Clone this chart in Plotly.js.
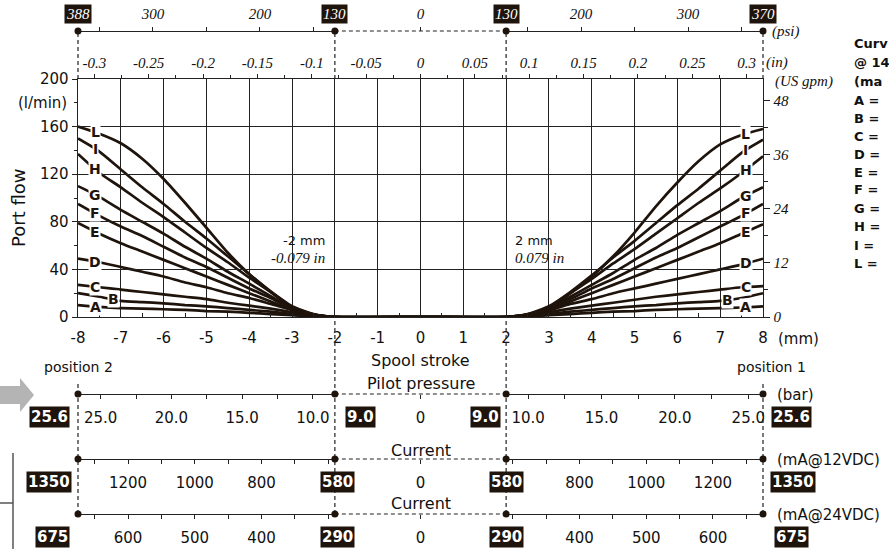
<!DOCTYPE html>
<html><head><meta charset="utf-8">
<script src="https://cdn.plot.ly/plotly-3.0.1.min.js"></script>
<style>html,body{margin:0;padding:0;background:#fff;}#chart{width:889px;height:549px;}</style>
</head><body><div id="chart"></div>
<script>
// ---------------- DATA ----------------
const strokeMm = [-8,-7.5,-7,-6.5,-6,-5.5,-5,-4.5,-4,-3.5,-3,-2.5,-2,0,2,2.5,3,3.5,4,4.5,5,5.5,6,6.5,7,7.5,8];
const curveNames = ['A','B','C','D','E','F','G','H','I','L'];
const flowA = [10,8.5,7.5,7,6.5,6,5,4.5,3.5,2.5,1.5,0.4,0, 0, 0,0.4,1.5,2.5,3.5,4.5,5,6,6.5,7,7.5,8,9];
const flowB = [20,17,13.5,12.5,11.5,10,9,7.5,6,4.5,2.5,0.7,0, 0, 0,0.7,2.5,4.5,6,7.5,9,10,11.5,12.5,13.5,16,20];
const flowC = [27,25,23,21,19,17,15,12,9.5,7,4,1,0, 0, 0,1,4,7,9.5,12,14.5,17,19,21,23,25,26];
const flowD = [49,46,42,38,34,29,25,20,16,11,6,1.5,0, 0, 0,1.5,5.5,11,15,20,24,28,32,36,40,44,49];
const flowE = [79,70,62,55,48,41,34,27,20,13,6,1.5,0, 0, 0,1.5,6,13,20,27,34,41,48,55,62,70,78];
const flowF = [95,85,76,68,59,50,42,33,24,16,7,2,0, 0, 0,2,7,15,24,32,41,50,58,67,76,85,95];
const flowG = [110,101,90,80,70,59,49,38,28,17.5,7.5,2,0, 0, 0,2,7,17,27,37,48,58,69,79,89,100,109];
const flowH = [137,121,109,96,84,71,58,46,33,21,8.5,2.3,0, 0, 0,2.3,8,20,32,45,57,70,83,96,108,121,135];
const flowI = [150,139,124,109,95,80,66,51,36,21.5,9,2.5,0, 0, 0,2.5,9,21,35,50,64,79,94,108,123,138,149];
const flowL = [160,154,146,133,116,96,75,54,36,21,8.5,2,0, 0, 0,2,8,20,34,51,71,93,113,131,145,153,158];

const mmTickVals = [-8,-7,-6,-5,-4,-3,-2,-1,0,1,2,3,4,5,6,7,8];
const mmTickText = ['-8','-7','-6','-5','-4','-3','-2','-1','0','1','2','3','4','5','6','7','8'];
const inchTickVals = [-0.3,-0.25,-0.2,-0.15,-0.1,-0.05,0,0.05,0.1,0.15,0.2,0.25,0.3];
const inchTickText = ['-0.3','-0.25','-0.2','-0.15','-0.1','-0.05','0','0.05','0.1','0.15','0.2','0.25','0.3'];
const flowTickVals = [0,40,80,120,160,200];
const gpmTickVals = [0,12,24,36,48];
const psiTickVals = [150,200,250,300,350];
const psiTickText = ['','200','','300',''];
const barTickVals = [10,12.5,15,17.5,20,22.5,25];
const barTickText = ['10.0','','15.0','','20.0','','25.0'];
const ma12TickVals = [600,700,800,900,1000,1100,1200,1300];
const ma12TickText = ['','','800','','1000','','1200',''];
const ma24TickVals = [300,350,400,450,500,550,600,650];
const ma24TickText = ['','','400','','500','','600',''];
const psiLimits = ['388','130','130','370'];
const barLimits = ['25.6','9.0','9.0','25.6'];
const ma12Limits = ['1350','580','580','1350'];
const ma24Limits = ['675','290','290','675'];
const legendLines = ['Curv','@ 14','(ma','A =','B =','C =','D =','E =','F =','G =','H =','I =','L ='];

// ---------------- GEOMETRY ----------------
const W = 889, H = 549;
const M = {l:78, r:126, t:31, b:35};
const plotW = W - M.l - M.r, plotH = H - M.t - M.b;
const xRange = [-8, 8];
const flowRange = [0, 200];
const LPM_TO_GPM = 0.264172;
const MM_PER_IN = 25.4;
function mmX(m){ return (m - xRange[0]) / (xRange[1] - xRange[0]); }
function pyFrac(ypx){ return (H - M.b - ypx) / plotH; }
function pxFrac(xpx){ return (xpx - M.l) / plotW; }
const mainDom = [pyFrac(317), pyFrac(79)];
const splitL = mmX(-2), splitR = mmX(2);
const posPsi = 1, posBar = pyFrac(394), posMa12 = pyFrac(459), posMa24 = 0;

const INK = '#1f140c';
const LINE = '#222';
const sans = 'DejaVu Sans';
const serif = 'Liberation Serif';

function interp(xs, ys, x){
  for (let i = 0; i < xs.length - 1; i++){
    if (x >= xs[i] && x <= xs[i+1]){
      const t = (x - xs[i]) / (xs[i+1] - xs[i]);
      return ys[i] + t * (ys[i+1] - ys[i]);
    }
  }
  return ys[ys.length-1];
}

// ---------------- TRACES ----------------
const flows = [flowA, flowB, flowC, flowD, flowE, flowF, flowG, flowH, flowI, flowL];
const traces = flows.map((f, i) => ({
  type: 'scatter', mode: 'lines', x: strokeMm, y: f, name: curveNames[i],
  line: {color: INK, width: 2.7, shape: 'spline', smoothing: 0.6},
  xaxis: 'x', yaxis: 'y', hoverinfo: 'skip', showlegend: false
}));
const auxAxes = [['x2','y'],['x','y2'],['x3','y'],['x4','y'],['x5','y'],['x6','y'],['x7','y'],['x8','y'],
  ['x9','y'],['x10','y'],['x11','y'],['x12','y'],['x13','y'],['x14','y']];

// ---------------- AXES ----------------
const fSerifIt = (s) => ({family: serif, size: s, style: 'italic', color: '#111'});
const fSans = (s) => ({family: sans, size: s, color: '#111'});

function scaleAxis(domain, range, pos, side, tv, tt, font, standoff, line){
  return {domain: domain, range: range, anchor: 'free', position: pos, side: side,
    tickmode: 'array', tickvals: tv, ticktext: tt, ticks: 'outside', ticklen: 4,
    tickcolor: LINE, tickwidth: 1, showline: line, linecolor: LINE, linewidth: 1.3,
    showgrid: false, zeroline: false, tickfont: font, ticklabelstandoff: standoff,
    fixedrange: true};
}

const layout = {
  width: W, height: H, margin: M, paper_bgcolor: '#fff', plot_bgcolor: 'rgba(0,0,0,0)',
  font: {family: sans, color: '#111'}, showlegend: false, hovermode: false,
  xaxis: {domain: [0,1], anchor: 'y', range: xRange, tickmode: 'array', tickvals: mmTickVals,
    ticktext: mmTickText, ticks: 'inside', ticklen: 4, tickcolor: LINE,
    minor: {dtick: 0.5, tick0: 0, ticks: 'inside', ticklen: 4, tickcolor: LINE, showgrid: false},
    showgrid: true, gridcolor: LINE, gridwidth: 1.1, showline: true, linecolor: LINE, linewidth: 1.4,
    zeroline: false, tickfont: fSans(15), ticklabelstandoff: 7, fixedrange: true},
  xaxis2: {overlaying: 'x', anchor: 'y', side: 'top', range: [xRange[0]/MM_PER_IN, xRange[1]/MM_PER_IN],
    tickmode: 'array', tickvals: inchTickVals, ticktext: inchTickText, ticks: 'outside', ticklen: 4, tickcolor: LINE,
    minor: {dtick: 0.025, tick0: 0, ticks: 'outside', ticklen: 3, tickcolor: LINE, showgrid: false},
    showgrid: false, showline: true, linecolor: LINE, linewidth: 1.4, zeroline: false,
    tickfont: fSerifIt(15), fixedrange: true},
  yaxis: {domain: mainDom, anchor: 'x', range: flowRange, tickmode: 'array', tickvals: flowTickVals,
    ticks: 'outside', ticklen: 5, tickcolor: LINE,
    minor: {dtick: 20, tick0: 0, ticks: 'outside', ticklen: 3, tickcolor: LINE, showgrid: false},
    showgrid: true, gridcolor: LINE, gridwidth: 1.1, showline: true, linecolor: LINE, linewidth: 1.4,
    zeroline: false, tickfont: fSans(15), fixedrange: true},
  yaxis2: {overlaying: 'y', anchor: 'x', side: 'right', range: [flowRange[0]*LPM_TO_GPM, flowRange[1]*LPM_TO_GPM],
    tickmode: 'array', tickvals: gpmTickVals, ticks: 'outside', ticklen: 6, tickcolor: LINE,
    minor: {dtick: 6, tick0: 0, ticks: 'outside', ticklen: 4, tickcolor: LINE, showgrid: false},
    showgrid: false, showline: true, linecolor: LINE, linewidth: 1.4, zeroline: false,
    tickfont: fSerifIt(15), fixedrange: true},
  // psi
  xaxis3: scaleAxis([0, splitL], [370, 130], posPsi, 'top', psiTickVals, psiTickText, fSerifIt(15), 2, true),
  xaxis4: scaleAxis([splitR, 1], [130, 370], posPsi, 'top', psiTickVals, psiTickText, fSerifIt(15), 2, true),
  xaxis5: scaleAxis([splitL, splitR], [-1, 1], posPsi, 'top', [0], ['0'], fSerifIt(15), 2, false),
  // pilot pressure (printed labels sit slightly inward of a linear scale)
  xaxis6: scaleAxis([0, splitL], [26.6, 8.45], posBar, 'bottom', barTickVals, barTickText, fSans(15), 6, true),
  xaxis7: scaleAxis([splitR, 1], [8.5, 26.0], posBar, 'bottom', barTickVals, barTickText, fSans(15), 6, true),
  xaxis8: scaleAxis([splitL, splitR], [-1, 1], posBar, 'bottom', [0], ['0'], fSans(15), 6, false),
  // current 12 VDC
  xaxis9: scaleAxis([0, splitL], [1350, 580], posMa12, 'bottom', ma12TickVals, ma12TickText, fSans(15), 6, true),
  xaxis10: scaleAxis([splitR, 1], [580, 1350], posMa12, 'bottom', ma12TickVals, ma12TickText, fSans(15), 6, true),
  xaxis11: scaleAxis([splitL, splitR], [-1, 1], posMa12, 'bottom', [0], ['0'], fSans(15), 6, false),
  // current 24 VDC
  xaxis12: scaleAxis([0, splitL], [675, 290], posMa24, 'bottom', ma24TickVals, ma24TickText, fSans(15), 6, true),
  xaxis13: scaleAxis([splitR, 1], [290, 675], posMa24, 'bottom', ma24TickVals, ma24TickText, fSans(15), 6, true),
  xaxis14: scaleAxis([splitL, splitR], [-1, 1], posMa24, 'bottom', [0], ['0'], fSans(15), 6, false),
  shapes: [], annotations: []
};

auxAxes.forEach(([xa, ya]) => {
  const xl = layout[xa === 'x' ? 'xaxis' : 'xaxis' + xa.slice(1)];
  const yl = layout[ya === 'y' ? 'yaxis' : 'yaxis' + ya.slice(1)];
  traces.push({type: 'scatter', mode: 'markers', x: [xl.range[0]], y: [yl.range[0]],
    xaxis: xa, yaxis: ya, marker: {opacity: 0, size: 1}, hoverinfo: 'skip', showlegend: false});
});

// ---------------- SHAPES ----------------
const S = layout.shapes;
const dashLine = {color: LINE, width: 1.2, dash: '4px,3px'};
const edges = [-8, -2, 2, 8];
edges.forEach(m => {
  S.push({type: 'line', xref: 'paper', yref: 'paper', x0: mmX(m), x1: mmX(m), y0: mainDom[1], y1: posPsi, line: dashLine});
});
[-2, 2].forEach(m => {
  S.push({type: 'line', xref: 'paper', yref: 'paper', x0: mmX(m), x1: mmX(m), y0: posMa24, y1: mainDom[0], line: dashLine});
});
[-8, 8].forEach(m => {
  S.push({type: 'line', xref: 'paper', yref: 'paper', x0: mmX(m), x1: mmX(m), y0: posMa24, y1: pyFrac(383), line: dashLine});
});
[posPsi, posBar, posMa12, posMa24].forEach(p => {
  S.push({type: 'line', xref: 'paper', yref: 'paper', x0: splitL, x1: splitR, y0: p, y1: p, line: dashLine});
  edges.forEach(m => {
    S.push({type: 'circle', xref: 'paper', yref: 'paper', xsizemode: 'pixel', ysizemode: 'pixel',
      xanchor: mmX(m), yanchor: p, x0: -3.5, x1: 3.5, y0: -3.5, y1: 3.5,
      fillcolor: INK, line: {color: INK, width: 0}});
  });
});
// neighbouring-figure fragments at the left edge
const arrowPts = [[0,386],[20,386],[20,378],[34,395],[20,412],[20,404],[0,404]];
S.push({type: 'path', xref: 'paper', yref: 'paper',
  path: 'M' + arrowPts.map(p => pxFrac(p[0]) + ',' + pyFrac(p[1])).join(' L') + ' Z',
  fillcolor: '#b4b4b4', line: {width: 0}});
S.push({type: 'line', xref: 'paper', yref: 'paper', x0: pxFrac(13), x1: pxFrac(13), y0: pyFrac(453), y1: pyFrac(549), line: {color: '#555', width: 1.5}});
S.push({type: 'line', xref: 'paper', yref: 'paper', x0: pxFrac(0), x1: pxFrac(13), y0: pyFrac(503), y1: pyFrac(503), line: {color: '#555', width: 1.5}});

// ---------------- ANNOTATIONS ----------------
const A = layout.annotations;
function txt(x, y, text, font, xanchor, extra){
  A.push(Object.assign({xref: 'paper', yref: 'paper', x: x, y: y, text: text, showarrow: false,
    font: font, xanchor: xanchor || 'center', yanchor: 'middle'}, extra || {}));
}
function box(x, y, text, font){
  txt(x, y, text, Object.assign({}, font, {color: '#fff'}), 'center', {bgcolor: INK, borderpad: 1});
}
const boldSans = {family: sans, size: 15, weight: 'bold'};
psiLimits.forEach((t, i) => box(mmX(edges[i]), pyFrac(14), t, {family: serif, size: 15, style: 'italic'}));
const barX = [-8.66, -1.41, 1.51, 8.66];
barLimits.forEach((t, i) => box(mmX(barX[i]), pyFrac(417), t, boldSans));
const ma12X = [-8.68, -1.95, 2.02, 8.7];
ma12Limits.forEach((t, i) => box(mmX(ma12X[i]), pyFrac(482), t, boldSans));
const ma24X = [-8.6, -1.95, 2.02, 8.66];
ma24Limits.forEach((t, i) => box(mmX(ma24X[i]), pyFrac(537), t, boldSans));

// units
txt(pxFrac(770), pyFrac(31), '(psi)', fSerifIt(15), 'left');
txt(pxFrac(764), pyFrac(63), '(in)', fSerifIt(15), 'left');
txt(pxFrac(773), pyFrac(82), '(US gpm)', fSerifIt(15), 'left');
txt(pxFrac(776), pyFrac(339), '(mm)', fSans(15), 'left');
txt(pxFrac(775), pyFrac(395), '(bar)', fSans(15), 'left');
txt(pxFrac(775), pyFrac(460), '(mA@12VDC)', fSans(15), 'left');
txt(pxFrac(775), pyFrac(515), '(mA@24VDC)', fSans(15), 'left');
txt(pxFrac(69), pyFrac(103), '(l/min)', fSans(15), 'right');

// titles
txt(pxFrac(18), pyFrac(208), 'Port flow', fSans(18), 'center', {textangle: -90});
txt(mmX(0), pyFrac(360), 'Spool stroke', fSans(16));
txt(mmX(-8), pyFrac(367), 'position 2', fSans(14));
txt(mmX(8.2), pyFrac(367), 'position 1', fSans(14));
txt(mmX(0), pyFrac(383), 'Pilot pressure', fSans(16));
txt(mmX(0), pyFrac(450), 'Current', fSans(16));
txt(mmX(0), pyFrac(503), 'Current', fSans(16));

// dead-band notes
A.push({xref: 'x', yref: 'y', x: -2.19, y: 64.5, text: '-2 mm', showarrow: false, xanchor: 'right', font: fSans(13)});
A.push({xref: 'x', yref: 'y', x: -2.19, y: 49.5, text: '-0.079 in', showarrow: false, xanchor: 'right', font: fSerifIt(15)});
A.push({xref: 'x', yref: 'y', x: 2.16, y: 64.5, text: '2 mm', showarrow: false, xanchor: 'left', font: fSans(13)});
A.push({xref: 'x', yref: 'y', x: 2.16, y: 49.5, text: '0.079 in', showarrow: false, xanchor: 'left', font: fSerifIt(15)});

// curve letters (sit on the curves)
const labelFont = {family: sans, size: 14, weight: 'bold', color: INK};
flows.forEach((f, i) => {
  const lx = curveNames[i] === 'B' ? 7.18 : 7.6;
  [-lx, lx].forEach(x => {
    A.push({xref: 'x', yref: 'y', x: x, y: interp(strokeMm, f, x), text: curveNames[i], showarrow: false,
      font: labelFont, bgcolor: '#fff', borderpad: 0, xanchor: 'center', yanchor: 'middle'});
  });
});

// cropped legend block at right edge
const legFont = {family: sans, size: 13, weight: 'bold', color: '#111'};
const legY = [44, 62, 82, 100, 118, 136, 154, 172, 190, 208, 226, 245, 263];
legendLines.forEach((t, i) => txt(pxFrac(852), pyFrac(legY[i]), t, legFont, 'left'));

Plotly.newPlot('chart', traces, layout, {staticPlot: true, displayModeBar: false});
</script>
</body></html>
